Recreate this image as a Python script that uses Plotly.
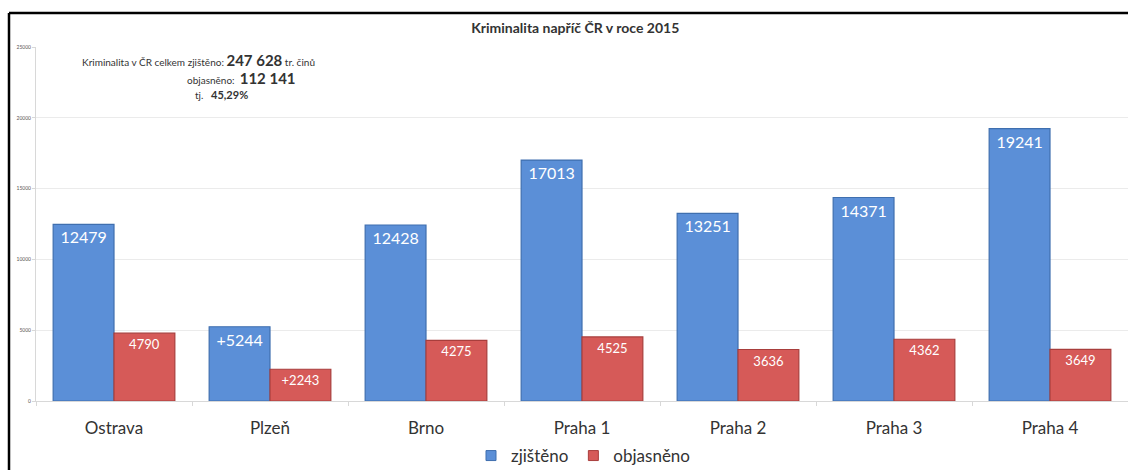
import plotly.graph_objects as go

categories = ["Ostrava", "Plzeň", "Brno", "Praha 1", "Praha 2", "Praha 3", "Praha 4"]
zjisteno = [12479, 5244, 12428, 17013, 13251, 14371, 19241]
objasneno = [4790, 2243, 4275, 4525, 3636, 4362, 3649]
label_prefix = ["", "+", "", "", "", "", ""]
y_ticks = [0, 5000, 10000, 15000, 20000, 25000]

FONT = "Lato"
W, H = 1128, 470
ML, MR, MT, MB = 36, 0, 47, 69
BLUE, BLUE_EDGE = "#5B8FD7", "#3F6FAF"
RED, RED_EDGE = "#D65A58", "#A83E3C"

def px_x(p):
    return (p - ML) / (W - ML - MR)

def px_y(p):
    return (H - MB - p) / (H - MT - MB)

fig = go.Figure()
fig.add_trace(go.Bar(
    x=categories, y=zjisteno, name="zjištěno", showlegend=False,
    marker=dict(color=BLUE, line=dict(color=BLUE_EDGE, width=1.2)),
    text=[f"{p}{v}" for p, v in zip(label_prefix, zjisteno)],
    textposition="inside", insidetextanchor="end", textangle=0,
    textfont=dict(family=FONT, size=16, color="white"),
))
fig.add_trace(go.Bar(
    x=categories, y=objasneno, name="objasněno", showlegend=False,
    marker=dict(color=RED, line=dict(color=RED_EDGE, width=1.2)),
    text=[f"{p}{v}" for p, v in zip(label_prefix, objasneno)],
    textposition="inside", insidetextanchor="end", textangle=0,
    textfont=dict(family=FONT, size=13, color="white"),
))
# legend entries with small square symbols
for name, col, edge in [("zjištěno", BLUE, BLUE_EDGE), ("objasněno", RED, RED_EDGE)]:
    fig.add_trace(go.Scatter(
        x=[None], y=[None], mode="markers", name=name,
        marker=dict(symbol="square", size=10, color=col, line=dict(color=edge, width=1)),
    ))

fig.update_layout(
    width=W, height=H,
    margin=dict(l=ML, r=MR, t=MT, b=MB, autoexpand=False),
    paper_bgcolor="white", plot_bgcolor="white",
    barmode="group", bargap=0.22, bargroupgap=0,
    font=dict(family=FONT, color="#333333"),
    title=dict(text="<b>Kriminalita napříč ČR v roce 2015</b>", x=0.51, xanchor="center",
               y=1 - 28 / H, yanchor="middle", yref="container",
               font=dict(family=FONT, size=14, color="#333333")),
    showlegend=True,
    legend=dict(orientation="h", x=px_x(583), xanchor="center", y=px_y(456), yanchor="middle",
                font=dict(family=FONT, size=17, color="#333333"), itemwidth=30,
                traceorder="normal", tracegroupgap=0),
    xaxis=dict(automargin=False, showline=True, linecolor="#D8D8D8", ticks="outside",
               tickson="boundaries", ticklen=4, tickcolor="#D8D8D8", ticklabelstandoff=12,
               tickfont=dict(family=FONT, size=17, color="#333333")),
    yaxis=dict(automargin=False, range=[0, 25000], tickvals=y_ticks,
               ticktext=[str(v) for v in y_ticks], showgrid=True, gridcolor="#EBEBEB",
               showline=True, linecolor="#D8D8D8", ticks="outside", ticklen=3,
               tickcolor="#D8D8D8", zeroline=False,
               tickfont=dict(family=FONT, size=5, color="#555555")),
    shapes=[
        dict(type="line", xref="paper", yref="paper", x0=px_x(9), x1=px_x(1128),
             y0=px_y(13), y1=px_y(13), line=dict(color="black", width=2.5)),
        dict(type="line", xref="paper", yref="paper", x0=px_x(9), x1=px_x(9),
             y0=px_y(13), y1=px_y(470), line=dict(color="black", width=2.5)),
    ],
    annotations=[
        dict(xref="paper", yref="paper", x=px_x(80), y=px_y(60), xanchor="left", yanchor="middle",
             showarrow=False, font=dict(family=FONT, size=10, color="#333333"),
             text="Kriminalita v ČR celkem zjištěno: <b><span style='font-size:15px'>247 628</span></b> tr. činů"),
        dict(xref="paper", yref="paper", x=px_x(185), y=px_y(78), xanchor="left", yanchor="middle",
             showarrow=False, font=dict(family=FONT, size=10, color="#333333"),
             text="objasněno:  <b><span style='font-size:15px'>112 141</span></b>"),
        dict(xref="paper", yref="paper", x=px_x(193), y=px_y(94), xanchor="left", yanchor="middle",
             showarrow=False, font=dict(family=FONT, size=10, color="#333333"),
             text="tj.   <b><span style='font-size:11px'>45,29%</span></b>"),
    ],
)

fig.write_html("out.html", config={"displayModeBar": False},
               post_script="document.body.style.margin='0';document.body.style.overflow='hidden';")
